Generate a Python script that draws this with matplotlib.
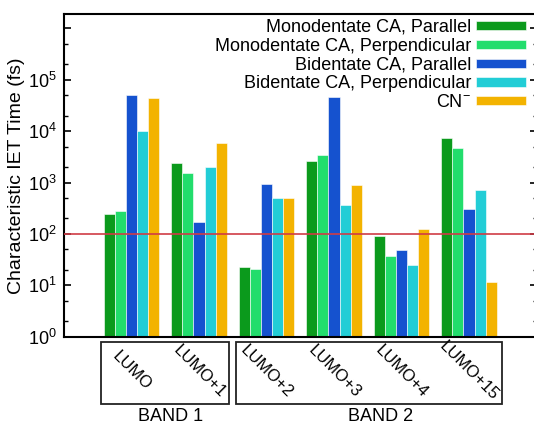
import matplotlib
matplotlib.use("Agg")
import matplotlib.pyplot as plt
from matplotlib.patches import Rectangle
import numpy as np

plt.rcParams["font.family"] = ["Liberation Sans", "DejaVu Sans"]
plt.rcParams["mathtext.default"] = "regular"

# NOTE : data (fs)
orbitals = ["LUMO", "LUMO+1", "LUMO+2", "LUMO+3", "LUMO+4", "LUMO+15"]
series = ["Monodentate CA, Parallel", "Monodentate CA, Perpendicular",
          "Bidentate CA, Parallel", "Bidentate CA, Perpendicular", "CN$^{-}$"]
mono_par = [240, 2350, 23, 2600, 90, 7400]
mono_perp = [275, 1500, 21, 3400, 38, 4600]
bi_par = [50000, 167, 920, 47000, 48, 300]
bi_perp = [10000, 1960, 510, 360, 25, 700]
cn = [45000, 5800, 510, 880, 122, 11.5]
threshold = 100
bands = ["BAND 1", "BAND 2"]
band_members = [[0, 1], [2, 3, 4, 5]]

colors = ["#0b9a1c", "#22dd6c", "#1552cf", "#22cdd6", "#f3b300"]
values = [mono_par, mono_perp, bi_par, bi_perp, cn]

fig = plt.figure(figsize=(5.34, 4.25), dpi=100)
ax = fig.add_axes([64/534, 1-336.7/425, 472.5/534, (336.7-14)/425])

x = np.arange(len(orbitals))
w = 0.163
for i, (vals, col, lab) in enumerate(zip(values, colors, series)):
    ax.bar(x + (i-2)*w, vals, w, color=col, edgecolor="white", linewidth=0.4, label=lab, zorder=2)

ax.axhline(threshold, color="#cf3c46", linewidth=1.2, zorder=3)

ax.set_yscale("log")
ax.set_ylim(1, 1.9e6)
ax.set_xlim(-1, 6)
ax.set_yticks([1, 10, 100, 1e3, 1e4, 1e5, 1e6])
ax.set_yticklabels(["$10^{%d}$" % k for k in range(6)] + [""])
ax.yaxis.set_minor_locator(matplotlib.ticker.LogLocator(base=10, subs=[2, 5], numticks=20))
ax.yaxis.set_minor_formatter(matplotlib.ticker.NullFormatter())
ax.tick_params(axis="y", which="major", direction="in", length=5, width=1.2, right=True, labelsize=13, pad=5)
ax.tick_params(axis="y", which="minor", direction="in", length=3, width=1, right=True)
ax.set_xticks([])
for s in ax.spines.values():
    s.set_linewidth(1.5)

ax.set_ylabel("Characteristic IET Time (fs)", fontsize=14, labelpad=2)

# NOTE : orbital labels and band boxes below the axis
tr = ax.get_xaxis_transform()
for xi, lab in zip(x, orbitals):
    ax.text(xi, -0.107, lab, transform=tr, rotation=-45, ha="center", va="center",
            fontsize=12, clip_on=False)

band_offsets = [(-0.45, 0.44), (-0.45, 0.49)]
band_text_x = [0.58, 3.69]
for name, members, (lo, hi), tx in zip(bands, band_members, band_offsets, band_text_x):
    x0 = members[0] + lo
    x1 = members[-1] + hi
    ax.add_patch(Rectangle((x0, -0.2085), x1 - x0, 0.192, transform=tr, fill=False,
                           edgecolor="#222222", linewidth=1.3, clip_on=False))
    ax.text(tx, -0.222, name, transform=tr, ha="center", va="top", fontsize=13, clip_on=False)

ax.legend(loc="upper right", bbox_to_anchor=(526/534, 1-19/425), bbox_transform=fig.transFigure,
          frameon=False, markerfirst=False, fontsize=13, handlelength=2.75, handleheight=0.4,
          handletextpad=0.3, labelspacing=0.1, borderpad=0, borderaxespad=0)
for t in ax.get_legend().get_texts():
    t.set_ha("right")

fig.savefig("out.png", dpi=100)
